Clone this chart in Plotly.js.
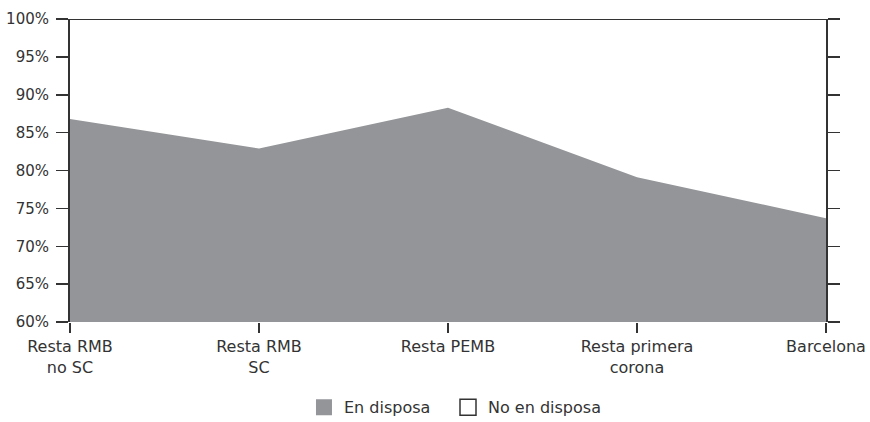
<!DOCTYPE html>
<html>
<head>
<meta charset="utf-8">
<script src="https://cdn.plot.ly/plotly-3.0.1.min.js"></script>
<style>html,body{margin:0;padding:0;background:#fff;}#chart{width:870px;height:422px;}</style>
</head>
<body>
<div id="chart"></div>
<script>
const categories = ["Resta RMB<br>no SC", "Resta RMB<br>SC", "Resta PEMB", "Resta primera<br>corona", "Barcelona"];
const enDisposa = [86.8, 82.9, 88.3, 79.1, 73.7];
const total = [100, 100, 100, 100, 100];
const yTickVals = [60, 65, 70, 75, 80, 85, 90, 95, 100];
const yTickText = ["60%", "65%", "70%", "75%", "80%", "85%", "90%", "95%", "100%"];

const grey = "#939598";
const ink = "#333333";

const traces = [
  {x: categories, y: enDisposa, type: "scatter", mode: "lines", fill: "tozeroy",
   fillcolor: grey, line: {width: 0, color: grey}, showlegend: false, hoverinfo: "skip"},
  {x: categories, y: total, type: "scatter", mode: "lines", fill: "tonexty",
   fillcolor: "rgba(255,255,255,0)", line: {width: 2, color: ink}, showlegend: false, hoverinfo: "skip"},
  {x: [null], y: [null], type: "scatter", mode: "markers", name: "En disposa", legend: "legend",
   marker: {symbol: "square", size: 16, color: grey, line: {width: 0}}},
  {x: [null], y: [null], type: "scatter", mode: "markers", name: "No en disposa", legend: "legend2",
   marker: {symbol: "square", size: 16, color: "#ffffff", line: {width: 1.5, color: ink}}}
];

const legendBase = {orientation: "h", xanchor: "left", yref: "container", y: 0.035, yanchor: "middle",
                    font: {size: 16, color: ink}, bgcolor: "rgba(0,0,0,0)"};

const layout = {
  width: 870, height: 422,
  margin: {l: 70, r: 44, t: 19, b: 100},
  paper_bgcolor: "#ffffff", plot_bgcolor: "#ffffff",
  font: {family: "'DejaVu Sans', sans-serif", size: 16, color: ink},
  showlegend: true,
  legend: Object.assign({}, legendBase, {x: 0.3095}),
  legend2: Object.assign({}, legendBase, {x: 0.5000}),
  xaxis: {type: "category", range: [0, 4], showgrid: false, zeroline: false, showline: false,
          ticks: "outside", ticklen: 10, tickwidth: 1.5, tickcolor: ink, fixedrange: true,
          tickfont: {size: 16, color: ink}, automargin: false},
  yaxis: {range: [60, 100], tickvals: yTickVals, ticktext: yTickText, showgrid: false, zeroline: false,
          showline: true, linecolor: ink, linewidth: 2, mirror: "ticks",
          ticks: "outside", ticklen: 12, tickwidth: 1.5, tickcolor: ink, fixedrange: true,
          ticklabelstandoff: 4,
          tickfont: {size: 15, color: ink}, automargin: false}
};

Plotly.newPlot("chart", traces, layout, {displayModeBar: false, staticPlot: true});
</script>
</body>
</html>
